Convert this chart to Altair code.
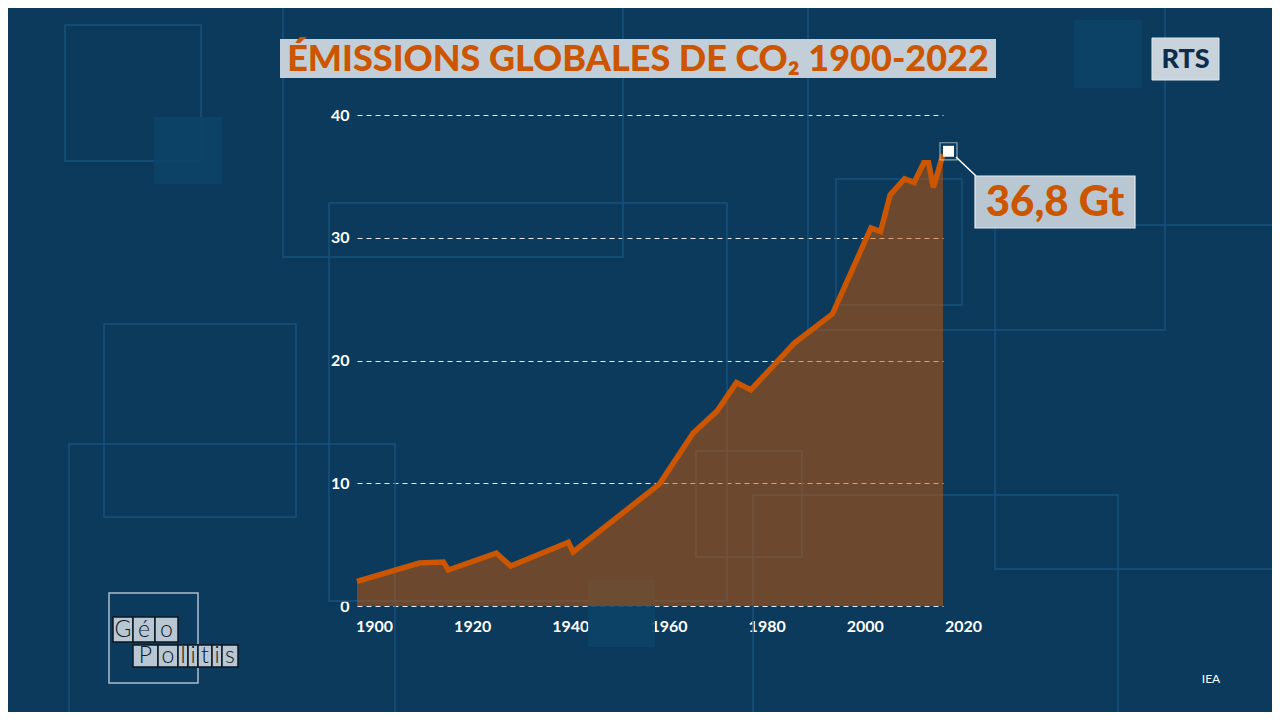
import altair as alt
import pandas as pd

# ---------------- data ----------------
years = [1900, 1913, 1918, 1919, 1929, 1932, 1944, 1945, 1963, 1970, 1975, 1979,
         1982, 1991, 1999, 2007, 2009, 2011, 2014, 2016, 2018, 2019, 2020, 2022]
co2_gt = [2.0, 3.5, 3.58, 2.93, 4.3, 3.26, 5.2, 4.4, 9.95, 14.1, 15.9, 18.2,
          17.6, 21.4, 23.8, 30.8, 30.5, 33.5, 34.8, 34.5, 36.1, 36.1, 34.1, 36.8]
y_ticks = [0, 10, 20, 30, 40]
x_ticks = [1900, 1920, 1940, 1960, 1980, 2000, 2020]
title_text = "ÉMISSIONS GLOBALES DE CO₂ 1900-2022"
last_label = "36,8 Gt"
source_text = "IEA"
logo_text = "RTS"
geo_row1 = ["G", "é", "o"]
geo_row2 = ["P", "o", "l", "i", "t", "i", "s"]

# ---------------- styling ----------------
BG = "#0b3a5c"
ORANGE = "#cc5500"
DECOR = "#17517c"
FILL_SQ = "#0d4468"
FONT = "Lato"

W, H = 600, 491            # plot area
OX, OY = 354, 115          # page position of plot origin

# background decoration (page pixel frames), converted to plot-relative pixels
frames = pd.DataFrame(
    [(65, 25, 201, 161), (283, -10, 623, 257), (329, 203, 727, 601),
     (104, 324, 296, 517), (808, -10, 1165, 330), (836, 179, 962, 305),
     (995, 225, 1290, 569), (69, 444, 395, 730), (753, 495, 1118, 730),
     (696, 451, 802, 557)],
    columns=["x0", "y0", "x1", "y1"])
squares = pd.DataFrame(
    [(154, 117, 222, 184), (1074, 20, 1142, 88), (588, 580, 655, 647)],
    columns=["x0", "y0", "x1", "y1"])
for d in (frames, squares):
    d[["x0", "x1"]] -= OX
    d[["y0", "y1"]] -= OY


def rect_layer(df, **kw):
    return alt.Chart(df).mark_rect(**kw).encode(
        x=alt.X("x0:Q", scale=None), x2="x1:Q",
        y=alt.Y("y0:Q", scale=None), y2="y1:Q")


decor_frames = rect_layer(frames, fill=None, stroke=DECOR, strokeWidth=1.5)
decor_squares = rect_layer(squares, fill=FILL_SQ, opacity=0.9)

# Geo Politis logo
geo_cells = pd.DataFrame({
    "ch": geo_row1 + geo_row2,
    "x0": [113, 133, 155, 133, 158, 178, 188, 198, 212, 222],
    "x1": [133, 155, 178, 158, 178, 188, 198, 212, 222, 238],
    "y0": [617] * 3 + [645] * 7,
    "y1": [642] * 3 + [667] * 7,
})
geo_cells[["x0", "x1"]] -= OX
geo_cells[["y0", "y1"]] -= OY
geo_cells["xc"] = (geo_cells.x0 + geo_cells.x1) / 2
geo_cells["yc"] = (geo_cells.y0 + geo_cells.y1) / 2
geo_frame = pd.DataFrame([(109 - OX, 593 - OY, 198 - OX, 683 - OY)],
                         columns=["x0", "y0", "x1", "y1"])
geo_outline = rect_layer(geo_frame, fill=None, stroke="#aebccb", strokeWidth=1.5)
geo_boxes = rect_layer(geo_cells, fill="#b9c7d2", stroke="#0a1826", strokeWidth=1.5)
geo_letters = alt.Chart(geo_cells).mark_text(
    font=FONT, fontSize=23, fontWeight=300, color="#0a1826", baseline="middle"
).encode(x=alt.X("xc:Q", scale=None), y=alt.Y("yc:Q", scale=None), text="ch:N")

# ---------------- data layers ----------------
df = pd.DataFrame({"year": years, "co2": co2_gt})
xdata = alt.X("year:Q", scale=alt.Scale(domain=[1900, 2022], range=[3, 589], nice=False, zero=False), axis=None)
ydata = alt.Y("co2:Q", scale=alt.Scale(domain=[0, 40], nice=False),
              axis=alt.Axis(values=y_ticks, grid=True, gridColor="#ffffff", gridDash=[5, 4],
                            gridWidth=1.2, gridOpacity=0.9, domain=False, ticks=False,
                            labelColor="#ffffff", labelFont=FONT, labelFontSize=16,
                            labelFontWeight="bold", labelPadding=5, title=None))

area = alt.Chart(df).mark_area(color=ORANGE, opacity=0.5).encode(x=xdata, y=ydata)
line = alt.Chart(df).mark_line(color=ORANGE, strokeWidth=5.5, strokeJoin="miter").encode(
    x=xdata, y=alt.Y("co2:Q"))

last = df.tail(1)
marker_box = alt.Chart(last).mark_square(
    size=290, filled=False, stroke="#c9d4dd", strokeWidth=1.2, xOffset=5.5, yOffset=-3
).encode(x=xdata, y=alt.Y("co2:Q"))
marker = alt.Chart(last).mark_square(
    size=120, color="#ffffff", opacity=1, xOffset=5.5, yOffset=-3
).encode(x=xdata, y=alt.Y("co2:Q"))

# x axis (labels) on its own scale
xt = pd.DataFrame({"tick": x_ticks})
x_axis_layer = alt.Chart(xt).mark_point(opacity=0).encode(
    x=alt.X("tick:Q",
            scale=alt.Scale(domain=[1900, 2020], range=[20, 609], nice=False, zero=False),
            axis=alt.Axis(values=x_ticks, format="d", grid=False, domain=False, ticks=False,
                          labelFlush=False, labelOverlap=False, labelBound=False,
                          labelColor="#ffffff", labelFont=FONT, labelFontSize=16,
                          labelFontWeight="bold", labelPadding=12, title=None)),
    y=alt.value(H / 2))

# ---------------- annotations ----------------
ann = pd.DataFrame({"dummy": [0]})
title_box = alt.Chart(ann).mark_rect(color="#c3cfd8").encode(
    x=alt.value(280 - OX), x2=alt.value(996 - OX), y=alt.value(39 - OY), y2=alt.value(78 - OY))
title = alt.Chart(ann).mark_text(
    text=title_text, font=FONT, fontSize=36, fontWeight=900, color=ORANGE,
    align="center", baseline="middle"
).encode(x=alt.value((280 + 996) / 2 - OX), y=alt.value(59.5 - OY))

rts_box = alt.Chart(ann).mark_rect(color="#c8d3dc", stroke="#dfe6ec", strokeWidth=1).encode(
    x=alt.value(1152 - OX), x2=alt.value(1219 - OX), y=alt.value(38 - OY), y2=alt.value(80 - OY))
rts = alt.Chart(ann).mark_text(
    text=logo_text, font=FONT, fontSize=27, fontWeight=900, color="#0c2d4b",
    align="center", baseline="middle"
).encode(x=alt.value(1185.5 - OX), y=alt.value(60 - OY))

connector = alt.Chart(ann).mark_rule(color="#ffffff", strokeWidth=1.5).encode(
    x=alt.value(956 - OX), x2=alt.value(976 - OX), y=alt.value(157 - OY), y2=alt.value(176 - OY))
label_box = alt.Chart(ann).mark_rect(color="#b9c7d2", stroke="#e4eaef", strokeWidth=1.2).encode(
    x=alt.value(975 - OX), x2=alt.value(1135 - OX), y=alt.value(176 - OY), y2=alt.value(228 - OY))
label = alt.Chart(ann).mark_text(
    text=last_label, font=FONT, fontSize=42, fontWeight=900, color=ORANGE,
    align="center", baseline="middle"
).encode(x=alt.value(1055 - OX), y=alt.value(203 - OY))

source = alt.Chart(ann).mark_text(
    text=source_text, font=FONT, fontSize=12, color="#ffffff", align="center", baseline="middle"
).encode(x=alt.value(1211 - OX), y=alt.value(679 - OY))

chart = alt.layer(
    decor_frames, decor_squares, geo_outline, geo_boxes, geo_letters,
    area, line, x_axis_layer, marker_box, marker,
    title_box, title, rts_box, rts, connector, label_box, label, source,
).resolve_scale(x="independent").properties(
    width=W, height=H,
    background=BG,
    padding={"left": OX - 8, "top": OY - 8, "right": 1264 - (OX - 8) - W, "bottom": 704 - (OY - 8) - H},
    autosize=alt.AutoSizeParams(type="none"),
).configure_view(stroke=None)

chart.save("out.html", embed_options={"renderer": "svg", "actions": False})
